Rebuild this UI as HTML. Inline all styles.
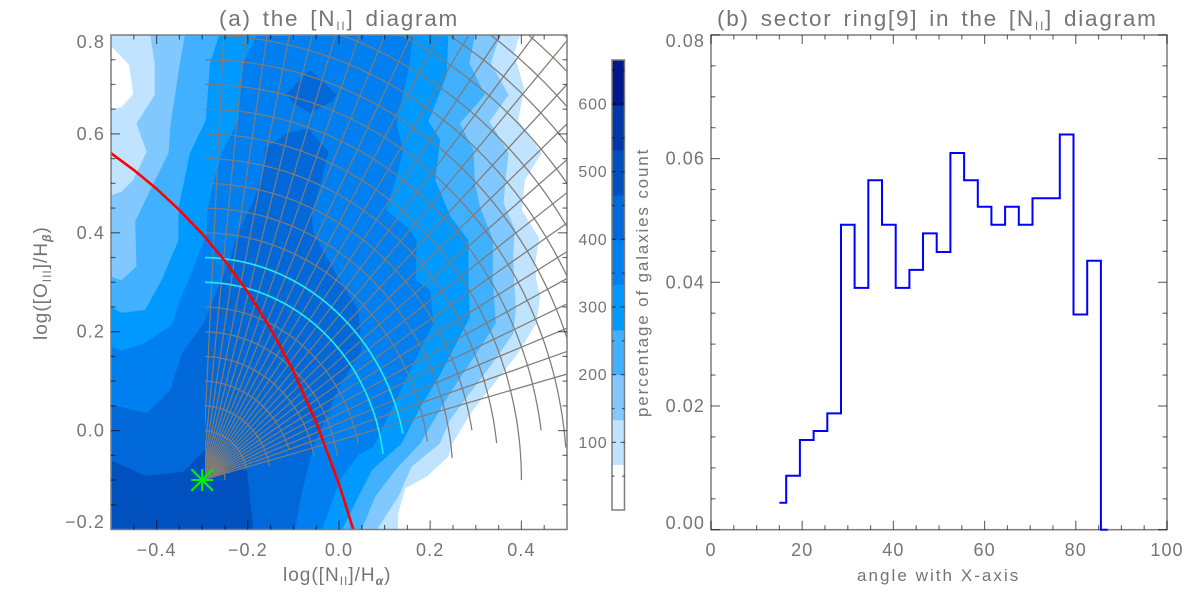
<!DOCTYPE html>
<html lang="en">
<head>
<meta charset="utf-8">
<title>BPT sector diagrams</title>
<style>
html,body{margin:0;padding:0;background:#fff;width:1200px;height:600px;overflow:hidden}
svg{display:block;font-family:"Liberation Sans",sans-serif}
text{fill:#757575}
.t-tick{font-size:18px;letter-spacing:1.1px}
.t-bar{font-size:16px;letter-spacing:.8px}
.t-title{font-size:22.5px;letter-spacing:1.75px;word-spacing:3px}
.t-label{font-size:15.5px;letter-spacing:1px}
.sub{font-size:12px}
</style>
</head>
<body>
<svg id="chart" width="1200" height="600" viewBox="0 0 1200 600" xmlns="http://www.w3.org/2000/svg">
  <defs>
    <clipPath id="plotClip"><rect x="111" y="35" width="456" height="494.5"/></clipPath>
    <clipPath id="gridClip"><rect x="205" y="35" width="362" height="494.5"/></clipPath>
  </defs>
  <rect width="1200" height="600" fill="#fff"/>

  <g id="contours" clip-path="url(#plotClip)"></g>
  <g id="grid" clip-path="url(#gridClip)" fill="none"></g>
  <g id="curves" clip-path="url(#plotClip)" fill="none"></g>
  <g id="axesA"></g>
  <g id="star"></g>

  <g id="bar"></g>

  <g id="axesB"></g>
  <g id="hist"></g>

  <text class="t-title" x="219" y="26">(a) the [N<tspan class="sub" dy="4" font-size="12">II</tspan><tspan dy="-4">]</tspan> diagram</text>
  <text class="t-title" x="717" y="26">(b) sector ring[9] in the [N<tspan class="sub" dy="4" font-size="12">II</tspan><tspan dy="-4">]</tspan> diagram</text>
  <text class="t-label" x="283" y="581" style="font-size:19px">log([N<tspan class="sub" dy="4">II</tspan><tspan dy="-4">]/H</tspan><tspan class="sub" dy="4" font-weight="bold" font-style="italic">α</tspan><tspan dy="-4">)</tspan></text>
  <text class="t-label" transform="translate(47,340) rotate(-90)" style="font-size:19px">log([O<tspan class="sub" dy="4">III</tspan><tspan dy="-4">]/H</tspan><tspan class="sub" dy="4" font-weight="bold" font-style="italic">β</tspan><tspan dy="-4">)</tspan></text>
  <text class="t-label" transform="translate(648,417) rotate(-90)" style="font-size:17px;letter-spacing:1.85px">percentage of galaxies count</text>
  <text class="t-label" x="857" y="581" style="font-size:17px;letter-spacing:2.05px">angle with X-axis</text>
</svg>

<script>
// ---- Panel (a) contour data: boundaries, in log-ratio units [log NII/Ha, log OIII/Hb]
const levelColors = ['#c0e4ff', '#80c8ff', '#40b0ff', '#0099ff', '#0080f0', '#0068d8', '#0050c0'];
const contourLevel1 = [[-.5,.8],[.397,.8],[.384,.763],[.406,.692],[.393,.628],[.444,.561],[.408,.507],[.401,.446],[.439,.389],[.430,.335],[.433,.304],[.441,.271],[.433,.217],[.390,.153],[.346,.102],[.291,.038],[.247,-.029],[.240,-.053],[.192,-.093],[.145,-.117],[.130,-.167],[.129,-.2],[-.5,-.2],[-.5,.651],[-.477,.654],[-.451,.681],[-.460,.739],[-.5,.778]];
const contourLevel2 = [[-.414,.8],[-.404,.743],[-.404,.679],[-.444,.621],[-.422,.564],[-.451,.507],[-.477,.483],[-.5,.476],[-.5,-.2],[.083,-.2],[.130,-.134],[.159,-.073],[.221,-.026],[.243,.021],[.284,.072],[.331,.129],[.382,.196],[.388,.244],[.384,.304],[.382,.359],[.386,.406],[.361,.460],[.366,.513],[.372,.561],[.342,.608],[.330,.625],[.372,.679],[.333,.743],[.353,.8]];
const contourLevel3 = [[-.338,.8],[-.349,.743],[-.369,.621],[-.374,.561],[-.403,.507],[-.447,.423],[-.444,.332],[-.477,.304],[-.5,.311],[-.5,-.2],[.050,-.2],[.079,-.134],[.123,-.080],[.178,-.026],[.243,.075],[.287,.136],[.344,.217],[.337,.304],[.338,.385],[.309,.453],[.298,.500],[.295,.568],[.265,.621],[.320,.679],[.286,.743],[.298,.8]];
const contourLevel4 = [[-.263,.8],[-.283,.743],[-.292,.628],[-.327,.561],[-.352,.450],[-.352,.385],[-.389,.304],[-.425,.244],[-.477,.238],[-.5,.25],[-.5,-.2],[.007,-.2],[.039,-.140],[.072,-.080],[.137,-.026],[.181,.052],[.221,.112],[.254,.170],[.287,.230],[.284,.304],[.284,.385],[.244,.433],[.211,.507],[.222,.588],[.196,.625],[.236,.719],[.240,.8]];
const contourLevel5 = [[-.181,.8],[-.210,.743],[-.221,.628],[-.257,.561],[-.276,.500],[-.290,.439],[-.290,.399],[-.330,.304],[-.349,.264],[-.367,.213],[-.429,.176],[-.477,.162],[-.5,.170],[-.5,-.2],[-.037,-.2],[.002,-.100],[.042,-.05],[.075,-.033],[.123,.058],[.174,.156],[.207,.217],[.200,.284],[.169,.304],[.170,.385],[.152,.409],[.104,.446],[.126,.513],[.141,.567],[.126,.621],[.152,.729],[.163,.8]];
const contourLevel6 = [[-.067,.611],[-.023,.564],[-.038,.507],[-.060,.439],[-.056,.399],[.002,.304],[.042,.244],[.050,.163],[.002,.092],[-.056,-.033],[-.082,-.127],[-.096,-.2],[-.5,-.2],[-.5,.052],[-.422,.035],[-.370,.082],[-.345,.156],[-.297,.217],[-.268,.284],[-.250,.321],[-.221,.399],[-.181,.480],[-.166,.527],[-.162,.571],[-.115,.601]];
const contourLevel6Island = [[-.0635,.729],[-.038,.709],[-.005,.679],[-.016,.665],[-.064,.642],[-.100,.662],[-.116,.681]];
const contourLevel7 = [[-.5,-.060],[-.425,-.092],[-.341,-.083],[-.293,-.039],[-.246,-.073],[-.202,-.080],[-.188,-.2],[-.5,-.2]];

// ---- Panel (a) sector grid
const gridCenter = [-0.3, -0.1];
const rayAngles = [15,18,21,24,27,30,33,36,39,42,45,48,51,54,57,60,63,66,69,72,75,78,81,84,87];
const ringRadii = [.05,.10,.15,.20,.25,.30,.35,.40,.45,.50,.55,.60,.65,.70,.75,.80,.85,.90,.95,1.0,1.05,1.10,1.15,1.20];
const ringEndAngles = [0,14,11,18,11,9,12,7.6,12,9,4.6,9.7,6.6,0,7.7,4.7,0,0,0,0,0,0,0,0];
const highlightedRings = [.40, .45];

// ---- Panel (a) demarcation curve values
const curveX = [-.5,-.45,-.4,-.35,-.3,-.25,-.2,-.15,-.1,-.05,0,.02,.035];
const curveY = [.561,.527,.489,.446,.398,.343,.280,.206,.120,.017,-.108,-.166,-.212];

// ---- Colorbar
const barLevels = [0,67,133,200,266,333,399,465,532,598,665];
const barColors = ['#ffffff','#c0e4ff','#80c8ff','#40b0ff','#0099ff','#0080f0','#0068d8','#0050c0','#0038a8','#001888'];
const barTickLabels = [100,200,300,400,500,600];

// ---- Panel (b) histogram
const histAngles = [15,18,21,24,27,30,33,36,39,42,45,48,51,54,57,60,63,66,69,72,75,78,81,84,87];
const histValues = [.00437,.00873,.0145,.01595,.0188,.0493,.0391,.0565,.0493,.0391,.0420,.0479,.0449,.0609,.0565,.0522,.0493,.0522,.0493,.0536,.0536,.0639,.0348,.0435,0];

// ---- Tick labels
const aXTicks = [-.4,-.2,0,.2,.4];
const aYTicks = [-.2,0,.2,.4,.6,.8];
const bXTicks = [0,20,40,60,80,100];
const bYTicks = [0,.02,.04,.06,.08];

// ---- Axis functions
const ax = v => 111 + (v + .5) * 456;
const ay = v => 529.5 - (v + .2) * 494.5;
const bx = v => 711 + v * 4.56;
const by = v => 529.7 - v * 6185;
const cy = v => 510 - v * (450 / 665);

const NS = 'http://www.w3.org/2000/svg';
function mk(tag, parent, attrs) {
  const e = document.createElementNS(NS, tag);
  for (const k in attrs) e.setAttribute(k, attrs[k]);
  parent.appendChild(e);
  return e;
}
const g = id => document.getElementById(id);
const toPts = list => list.map(p => ax(p[0]).toFixed(1) + ',' + ay(p[1]).toFixed(1)).join(' ');

// contour fill bands
const contourSets = [[contourLevel1], [contourLevel2], [contourLevel3], [contourLevel4], [contourLevel5], [contourLevel6, contourLevel6Island], [contourLevel7]];
contourSets.forEach((set, i) => {
  set.forEach(poly => {
    const p = mk('polygon', g('contours'), {points: toPts(poly), fill: levelColors[i]});
    
    
  });
});

// rays
const polar = (r, deg) => [gridCenter[0] + r * Math.cos(deg * Math.PI / 180), gridCenter[1] + r * Math.sin(deg * Math.PI / 180)];
rayAngles.forEach(a => {
  const s = polar(.004, a), e = polar(1.6, a);
  const l = mk('line', g('grid'), {x1: ax(s[0]), y1: ay(s[1]), x2: ax(e[0]), y2: ay(e[1]), stroke: '#7f7b78', 'stroke-width': 1.25});
  
  
});
// rings
function arcPts(r, endDeg) {
  const pts = [];
  for (let d = 90; d >= endDeg; d -= 1) pts.push(polar(r, d));
  pts.push(polar(r, endDeg));
  return pts;
}
ringRadii.forEach((r, i) => {
  const pl = mk('polyline', g('grid'), {points: toPts(arcPts(r, ringEndAngles[i])), stroke: '#7f7b78', 'stroke-width': 1.25});
  
  
});
highlightedRings.forEach(r => {
  const idx = ringRadii.indexOf(r);
  const pl = mk('polyline', g('grid'), {points: toPts(arcPts(r, ringEndAngles[idx])), stroke: '#19f0f5', 'stroke-width': 1.6});
  
  
});

// demarcation curve
const curvePts = curveX.map((x, i) => [x, curveY[i]]);
const curve = mk('polyline', g('curves'), {points: toPts(curvePts), stroke: '#ff0000', 'stroke-width': 2.6, 'stroke-linejoin': 'round'});



// star marker
[[1,0],[0,1],[.98,.98],[.98,-.98]].forEach(d => {
  const cx = ax(gridCenter[0]), cyy = ay(gridCenter[1]);
  const l = mk('line', g('star'), {x1: cx - 11 * d[0], y1: cyy - 11 * d[1], x2: cx + 11 * d[0], y2: cyy + 11 * d[1], stroke: '#00f000', 'stroke-width': 2.2});
  
  
});

// generic axes
function frame(parent, x0, y0, x1, y1, name) {
  const r = mk('rect', parent, {x: x0, y: y0, width: x1 - x0, height: y1 - y0, fill: 'none', stroke: '#7d7d7d', 'stroke-width': 1.5});
  
  
}
function tick(parent, x1, y1, x2, y2) {
  const l = mk('line', parent, {x1, y1, x2, y2, stroke: '#6e6e6e', 'stroke-width': 1.2, style: 'mix-blend-mode:multiply'});
  
  
}
function label(parent, x, y, str, anchor, cls) {
  const t = mk('text', parent, {x, y, 'text-anchor': anchor, class: cls});
  t.textContent = str;
  
  
}
const clamp = (v, a, b) => Math.min(b, Math.max(a, v));
const fmtA = v => (v < 0 ? '\u2212' : '') + Math.abs(v).toFixed(1);

// panel (a) axes
frame(g('axesA'), 111, 35, 567, 529.5, 'left-panel-frame');
for (let k = -9; k <= 9; k++) {
  const v = k * .05, maj = k % 4 === 0;
  const len = maj ? 9 : 4.5;
  tick(g('axesA'), ax(v), 529.5, ax(v), 529.5 - len);
  tick(g('axesA'), ax(v), 35, ax(v), 35 + len);
}
for (let k = -3; k <= 15; k++) {
  const v = k * .05, maj = (k + 4) % 4 === 0;
  const len = maj ? 9 : 4.5;
  tick(g('axesA'), 111, ay(v), 111 + len, ay(v));
  tick(g('axesA'), 567, ay(v), 567 - len, ay(v));
}
aXTicks.forEach(v => label(g('axesA'), ax(v), 556, fmtA(v), 'middle', 't-tick'));
aYTicks.forEach(v => label(g('axesA'), 105, clamp(ay(v), 42, 522) + 6, fmtA(v), 'end', 't-tick'));

// colorbar
barColors.forEach((c, i) => {
  const r = mk('rect', g('bar'), {x: 612, y: cy(barLevels[i + 1]), width: 12.5, height: cy(barLevels[i]) - cy(barLevels[i + 1]) + .3, fill: c});
  
  
});
frame(g('bar'), 612, 60, 624.5, 510, 'colorbar-frame');
for (let v = 50; v < 665; v += 50) {
  const len = v % 100 === 0 ? 4 : 2.5;
  tick(g('bar'), 612, cy(v), 612 + len, cy(v));
  tick(g('bar'), 624.5, cy(v), 624.5 - len, cy(v));
}
barTickLabels.forEach(v => label(g('bar'), 607.5, cy(v) + 5.5, String(v), 'end', 't-bar'));

// panel (b) axes
frame(g('axesB'), 711, 35, 1167, 529.7, 'right-panel-frame');
for (let v = 0; v <= 100; v += 5) {
  const len = v % 20 === 0 ? 9 : 4.5;
  tick(g('axesB'), bx(v), 529.7, bx(v), 529.7 - len);
  tick(g('axesB'), bx(v), 35, bx(v), 35 + len);
}
for (let k = 0; k <= 16; k++) {
  const v = k * .005, len = k % 4 === 0 ? 9 : 4.5;
  tick(g('axesB'), 711, by(v), 711 + len, by(v));
  tick(g('axesB'), 1167, by(v), 1167 - len, by(v));
}
bXTicks.forEach(v => label(g('axesB'), bx(v), 556, String(v), 'middle', 't-tick'));
bYTicks.forEach(v => label(g('axesB'), 705, clamp(by(v), 41, 523) + 6, v.toFixed(2), 'end', 't-tick'));

// histogram step line (bins centred on each angle, half bins at the ends)
const half = (histAngles[1] - histAngles[0]) / 2;
let d = '';
histAngles.forEach((a, i) => {
  const x0 = bx(a - (i === 0 ? 0 : half)), x1 = bx(a + (i === histAngles.length - 1 ? 0 : half)), y = by(histValues[i]);
  d += (i === 0 ? 'M' : 'L') + x0.toFixed(1) + ' ' + y.toFixed(1) + 'L' + x1.toFixed(1) + ' ' + y.toFixed(1);
});
const step = mk('path', g('hist'), {d, fill: 'none', stroke: '#0000ff', 'stroke-width': 2});


</script>
</body>
</html>
